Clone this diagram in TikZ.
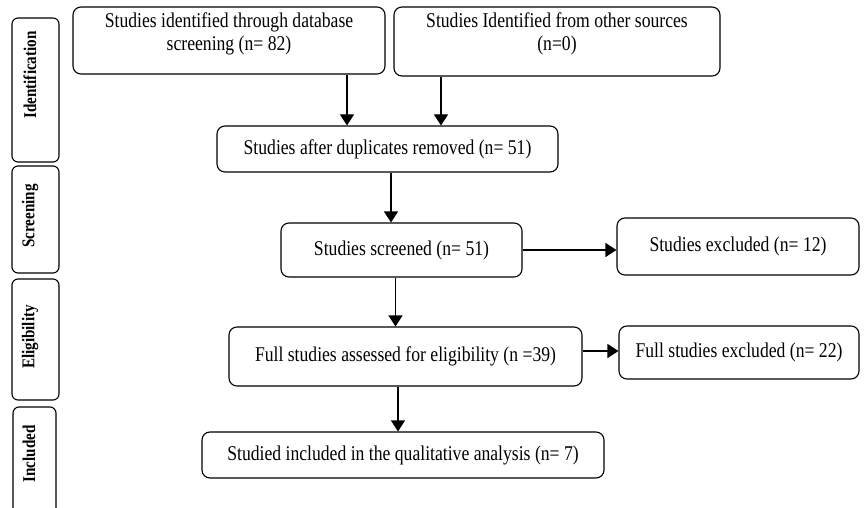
\documentclass[tikz,border=0pt]{standalone}
\usepackage{fontspec}
\setmainfont{Liberation Serif}[FakeStretch=0.84]
\usetikzlibrary{arrows.meta}
\begin{document}
\begin{tikzpicture}[x=1pt,y=-1pt,
 box/.style={draw, rounded corners=8pt, line width=1.1pt, inner sep=0pt, font=\fontsize{21}{23}\selectfont, align=center},
 side/.style={draw, rounded corners=6pt, line width=1.1pt, inner sep=0pt},
 sidetxt/.style={rotate=90, font=\fontsize{18}{20}\selectfont\bfseries, inner sep=0pt},
 arr/.style={-{Triangle[length=11pt,width=14pt]}, line width=1.1pt},
 txt/.style={font=\fontsize{21}{23}\selectfont, align=center, inner sep=0pt}]
\useasboundingbox (0,0) rectangle (865,508);
\clip (0,0) rectangle (865,508);
% side stage boxes
\node[side, minimum width=47pt, minimum height=144pt] (sid) at (35.5,90) {};
\node[sidetxt] (sidt) at (30,75) {Identification};
\node[side, minimum width=47pt, minimum height=107pt] (sscr) at (35.5,219.5) {};
\node[sidetxt] (sscrt) at (30,216) {Screening};
\node[side, minimum width=47pt, minimum height=121pt] (sel) at (35.5,339.5) {};
\node[sidetxt] (selt) at (30,337) {Eligibility};
\node[side, minimum width=43pt, minimum height=133pt] (sin) at (34.5,473.5) {};
\node[sidetxt] (sint) at (29,454) {Included};
% flow boxes
\node[box, minimum width=312pt, minimum height=67pt] (b1) at (229,40.5) {};
\node[txt] (b1t) at (229,34) {Studies identified through database\\screening (n= 82)};
\node[box, minimum width=326pt, minimum height=69pt] (b2) at (557,41.5) {};
\node[txt] (b2t) at (557,34) {Studies Identified from other sources\\(n=0)};
\node[box, minimum width=341pt, minimum height=46pt] (dup) at (387.5,149) {Studies after duplicates removed (n= 51)};
\node[box, minimum width=241pt, minimum height=54pt] (scr) at (401.5,250) {Studies screened (n= 51)};
\node[box, minimum width=242pt, minimum height=57pt] (ex1) at (738,246.5) {Studies excluded (n= 12)};
\node[box, minimum width=353pt, minimum height=59pt] (full) at (405.5,356.5) {Full studies assessed for eligibility (n =39)};
\node[box, minimum width=240pt, minimum height=53pt] (ex2) at (739,352.5) {Full studies excluded (n= 22)};
\node[box, minimum width=402pt, minimum height=46pt] (inc) at (403,455) {Studied included in the qualitative analysis (n= 7)};
% connectors
\draw[arr] ([xshift=118pt]b1.south) -- ([xshift=118pt]b1.south |- dup.north);
\draw[arr] ([xshift=-116pt]b2.south) -- ([xshift=-116pt]b2.south |- dup.north);
\draw[arr] ([xshift=3.5pt]dup.south) -- ([xshift=3.5pt]dup.south |- scr.north);
\draw[arr] (scr.east) -- (scr.east -| ex1.west);
\draw[arr] ([xshift=-6pt]scr.south) -- ([xshift=-6pt]scr.south |- full.north);
\draw[arr] ([yshift=5.5pt]full.east) -- ([yshift=5.5pt]full.east -| ex2.west);
\draw[arr] ([xshift=-7.5pt]full.south) -- ([xshift=-7.5pt]full.south |- inc.north);
\end{tikzpicture}
\end{document}
